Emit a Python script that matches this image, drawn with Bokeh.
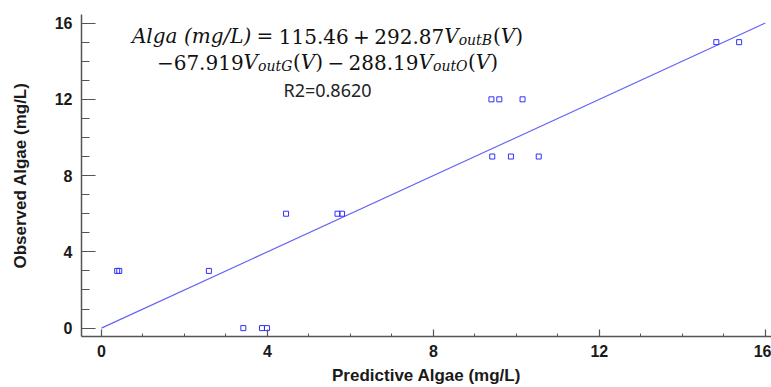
from bokeh.plotting import figure
from bokeh.models import Label, FixedTicker, Range1d
from bokeh.embed import file_html
from bokeh.resources import INLINE

# ---- data ----
predicted = [0.38, 0.43, 2.59, 3.42, 3.87, 3.99, 4.45, 5.69, 5.80,
             9.40, 9.59, 10.15, 9.42, 9.87, 10.54, 14.82, 15.37]
observed = [3, 3, 3, 0, 0, 0, 6, 6, 6,
            12, 12, 12, 9, 9, 9, 15, 15]
fit_x = [0, 16]
fit_y = [0, 16]
x_ticks = [0, 4, 8, 12, 16]
y_ticks = [0, 4, 8, 12, 16]
x_title = "Predictive Algae (mg/L)"
y_title = "Observed Algae (mg/L)"
r2_text = "R2=0.8620"

# ---- layout ----
W, H = 771, 387
FL, FT, FR, FB = 81, 14, 0, 50
FW, FH = W - FL - FR, H - FT - FB
X0, X1 = -0.48, 16.15
Y0, Y1 = -0.44, 16.45

p = figure(width=W, height=H, output_backend="svg", toolbar_location=None,
           x_range=Range1d(X0, X1), y_range=Range1d(Y0, Y1),
           min_border_left=FL, min_border_right=FR, min_border_top=FT,
           min_border_bottom=FB, background_fill_color="white",
           border_fill_color="white")
p.outline_line_color = None
p.grid.visible = False

p.line(fit_x, fit_y, line_color="#6464f5", line_width=1.2)
p.scatter(predicted, observed, marker="square", size=5, fill_color=None,
          line_color="#3030ff", line_width=1)

axis_col = "#555555"
for ax, tks in ((p.xaxis[0], x_ticks), (p.yaxis[0], y_ticks)):
    ax.ticker = FixedTicker(ticks=tks,
                            minor_ticks=[t / 1.0 for t in range(0, 17)])
    ax.axis_line_color = axis_col
    ax.axis_line_width = 1.5
    ax.major_tick_line_color = axis_col
    ax.minor_tick_line_color = axis_col
    ax.major_tick_line_width = 1.2
    ax.minor_tick_line_width = 1
    ax.major_tick_out = 0
    ax.minor_tick_out = 0
    ax.major_label_text_font = "Liberation Sans"
    ax.major_label_text_font_style = "bold"
    ax.major_label_text_font_size = "16px"
    ax.major_label_text_color = "#1a1a1a"
    ax.axis_label_text_font = "Liberation Sans"
    ax.axis_label_text_font_style = "bold"
    ax.axis_label_text_font_size = "17px"
    ax.axis_label_text_color = "#1a1a1a"

p.xaxis.major_tick_in = 7
p.xaxis.minor_tick_in = 3
p.yaxis.major_tick_in = 14
p.yaxis.minor_tick_in = 8
p.xaxis.major_label_standoff = 8
p.yaxis.major_label_standoff = 9
p.xaxis.axis_label = x_title
p.yaxis.axis_label = y_title
p.xaxis.axis_label_standoff = 6
p.yaxis.axis_label_standoff = 22


def dx(px):
    return X0 + (px - FL) * (X1 - X0) / FW


def dy(py):
    return Y1 - (py - FT) * (Y1 - Y0) / FH


# ---- equation, laid out piece by piece ----
UP = {"0": .636, "1": .636, "2": .636, "3": .636, "4": .636, "5": .636,
      "6": .636, "7": .636, "8": .636, "9": .636, ".": .318, "=": .838,
      "+": .838, "\u2212": .838, "(": .390, ")": .390}
IT = {"A": .722, "l": .320, "g": .640, "a": .596, "m": .948, "/": .337,
      "L": .640, "V": .722, "o": .602, "u": .644, "t": .402, "B": .735,
      "G": .775, "O": .787, "(": .390, ")": .390}

MAIN = 20
SUB = 14


def width(txt, italic, size):
    tab = IT if italic else UP
    return sum(tab.get(c, .6) for c in txt) * size


def piece(t, it=False, sub=False):
    return ("t", t, it, sub)


def gap(em):
    return ("g", em)


line1 = [piece("Alga", True), gap(.32), piece("(mg/L)", True), gap(.28),
         piece("="), gap(.28), piece("115.46"), gap(.22), piece("+"), gap(.22),
         piece("292.87"), piece("V", True), piece("outB", True, True),
         gap(.05), piece("("), piece("V", True), piece(")")]
line2 = [piece("\u221267.919"), piece("V", True), piece("outG", True, True),
         gap(.05), piece("("), piece("V", True), piece(")"), gap(.22),
         piece("\u2212"), gap(.22), piece("288.19"), piece("V", True),
         piece("outO", True, True), gap(.05), piece("("), piece("V", True),
         piece(")")]

CENTER = 327


def lay(items, baseline):
    def w(it):
        if it[0] == "g":
            return it[1] * MAIN
        _, t, ital, sub = it
        return width(t, ital, SUB if sub else MAIN)
    total = sum(w(it) for it in items)
    cur = CENTER - total / 2
    for it in items:
        if it[0] == "t":
            _, t, ital, sub = it
            p.add_layout(Label(
                x=dx(cur), y=dy(baseline + (4 if sub else 0)), text=t,
                text_font="DejaVu Serif",
                text_font_style="italic" if ital else "normal",
                text_font_size=f"{SUB if sub else MAIN}px",
                text_color="#111111", text_align="left",
                text_baseline="alphabetic"))
        cur += w(it)


lay(line1, 36)
lay(line2, 62)

p.add_layout(Label(x=dx(CENTER), y=dy(90), text=r2_text,
                   text_font="Noto Sans", text_font_size="18px",
                   text_color="#222222", text_align="center",
                   text_baseline="alphabetic"))

open("out.html", "w").write(file_html(p, INLINE))
